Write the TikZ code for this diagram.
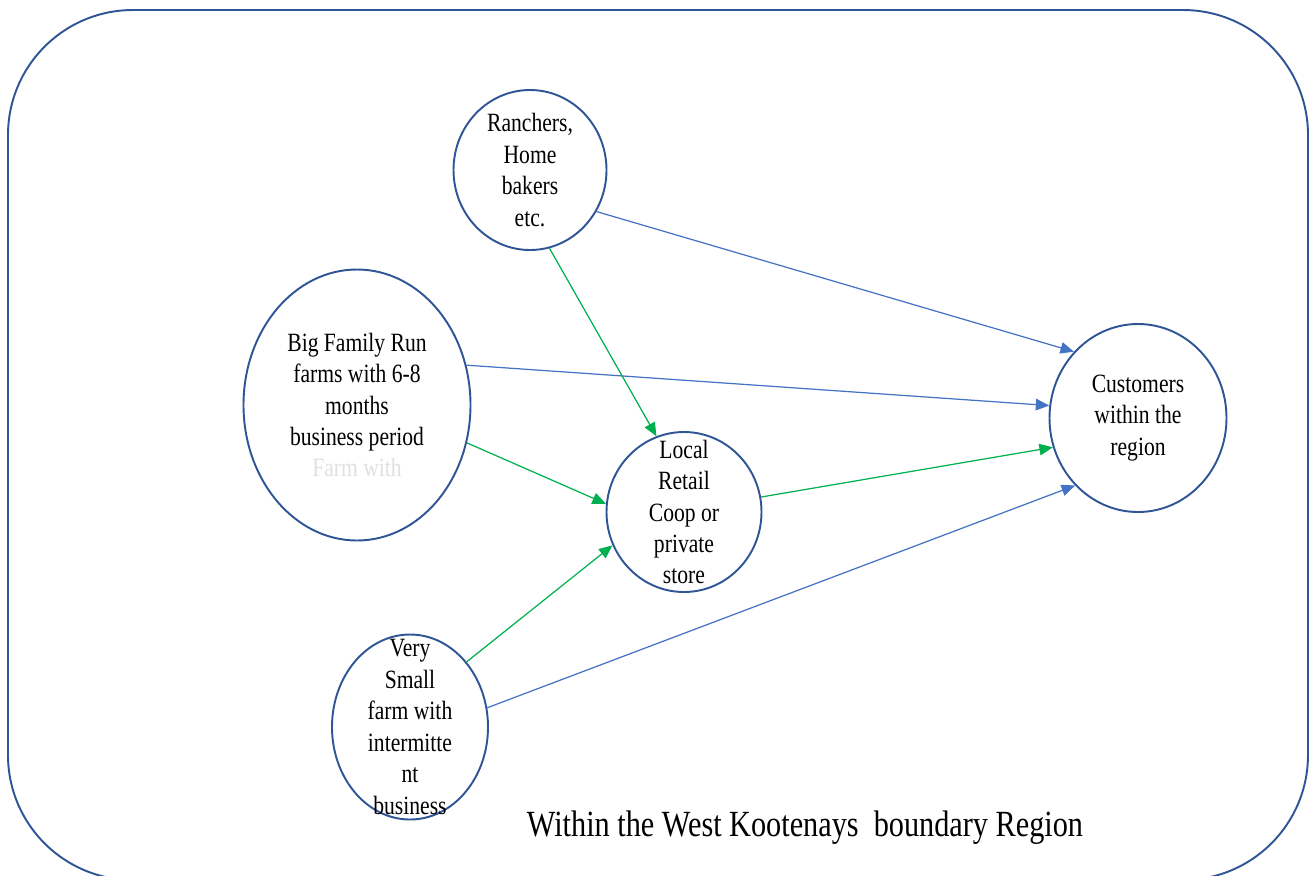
\documentclass[tikz,border=0pt]{standalone}
\usepackage{fontspec}
\setmainfont{Liberation Serif}[FakeStretch=0.82]
\usetikzlibrary{arrows.meta,shapes.geometric}

\definecolor{rim}{HTML}{2F5597}
\definecolor{directblue}{HTML}{4472C4}
\definecolor{storegreen}{HTML}{00B050}

\tikzset{
	farm/.style={draw=rim, line width=1.1pt, ellipse, inner sep=0pt},
	inside/.style={align=center, font=\fontsize{15}{17.9}\selectfont},
	direct/.style={draw=directblue, line width=0.7pt, -{Triangle[length=2.7mm,width=2.3mm]}},
	viastore/.style={draw=storegreen, line width=0.7pt, -{Triangle[length=2.7mm,width=2.3mm]}},
}

\begin{document}
\begin{tikzpicture}[x=0.2mm, y=-0.2mm]
		\clip (0, 0) rectangle (1310, 875);
		\draw[rim, line width=1.1pt, rounded corners=25mm] (8, 10) rectangle (1308, 880);

		\node[farm, minimum width=30.6mm, minimum height=32mm,
			label={[inside]center:{Ranchers,\\Home\\bakers\\etc.}}] (ranch) at (530, 170) {};
		\node[farm, minimum width=45.4mm, minimum height=54.2mm,
			label={[inside]center:{Big Family Run\\farms with 6-8\\months\\business period\\\textcolor{black!12}{Farm with}}}] (bigfarm) at (357, 405) {};
		\node[farm, minimum width=31mm, minimum height=32mm,
			label={[inside]center:{Local\\Retail\\Coop or\\private\\store}}] (store) at (684, 512) {};
		\node[farm, minimum width=31.2mm, minimum height=37mm,
			label={[inside]center:{Very\\Small\\farm with\\intermitte\\nt\\business}}] (smallfarm) at (410, 727) {};
		\node[farm, minimum width=35.4mm, minimum height=37.6mm,
			label={[inside]center:{Customers\\within the\\region}}] (customers) at (1138, 418) {};

		\node[font=\fontsize{21}{25}\selectfont] (region) at (805, 828) {Within the West Kootenays~ boundary Region};

		% straight to the customers
		\draw[direct] (ranch.-32) -- (customers.134);
		\draw[direct] (bigfarm.20) -- (customers.172);
		\draw[direct] (smallfarm.14) -- (customers.227);

		% through the store
		\draw[viastore] (ranch.-76) -- (store.110);
		\draw[viastore] (bigfarm.-19) -- (store.174);
		\draw[viastore] (smallfarm.49) -- (store.-155);
		\draw[viastore] (store.11) -- (customers.199);
	\end{tikzpicture}
\end{document}
